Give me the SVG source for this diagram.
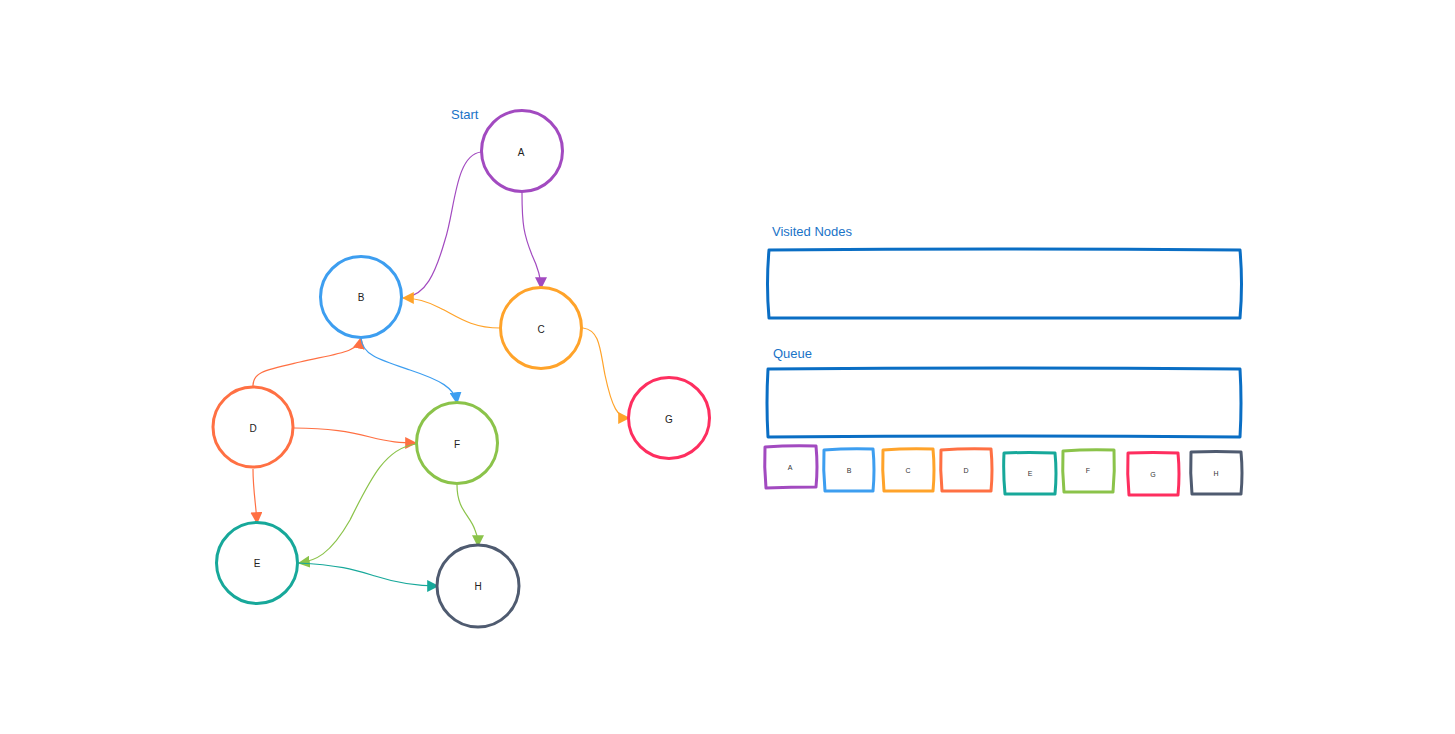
<svg xmlns="http://www.w3.org/2000/svg" width="1455" height="734" viewBox="0 0 1455 734">
<style>
.node{fill:#fff;stroke-width:3}
.lbl{font-family:"Liberation Sans",Arial,sans-serif;font-size:10px;fill:#222;text-anchor:middle;dominant-baseline:central}
.sq{fill:#fff;stroke-width:3;stroke-linejoin:round}
.sql{font-family:"Liberation Sans",Arial,sans-serif;font-size:7px;fill:#333;text-anchor:middle;dominant-baseline:central}
.title{font-family:"Liberation Sans",Arial,sans-serif;font-size:13px;fill:#1a73c7}
.edge{fill:none;stroke-width:1.2}
.panel{fill:#fff;stroke:#0a6ec4;stroke-width:3;stroke-linejoin:round}
</style>
<defs>
<marker id="mPurple" viewBox="0 0 10 10" refX="9" refY="5" markerWidth="12" markerHeight="12" markerUnits="userSpaceOnUse" orient="auto"><path d="M0,0 L10,5 L0,10 z" fill="#a24ac0"/></marker>
<marker id="mOrange" viewBox="0 0 10 10" refX="9" refY="5" markerWidth="12" markerHeight="12" markerUnits="userSpaceOnUse" orient="auto"><path d="M0,0 L10,5 L0,10 z" fill="#ffa32a"/></marker>
<marker id="mRed" viewBox="0 0 10 10" refX="9" refY="5" markerWidth="12" markerHeight="12" markerUnits="userSpaceOnUse" orient="auto"><path d="M0,0 L10,5 L0,10 z" fill="#ff7043"/></marker>
<marker id="mBlue" viewBox="0 0 10 10" refX="9" refY="5" markerWidth="12" markerHeight="12" markerUnits="userSpaceOnUse" orient="auto"><path d="M0,0 L10,5 L0,10 z" fill="#3d9ef0"/></marker>
<marker id="mGreen" viewBox="0 0 10 10" refX="9" refY="5" markerWidth="12" markerHeight="12" markerUnits="userSpaceOnUse" orient="auto"><path d="M0,0 L10,5 L0,10 z" fill="#8bc34a"/></marker>
<marker id="mTeal" viewBox="0 0 10 10" refX="9" refY="5" markerWidth="12" markerHeight="12" markerUnits="userSpaceOnUse" orient="auto"><path d="M0,0 L10,5 L0,10 z" fill="#17a89a"/></marker>
</defs>

<g id="connectors">
<path class="edge" stroke="#a24ac0" d="M481,152 C455,155 455,210 445,240 C435,275 425,295 406,297"/>
<path class="edge" stroke="#a24ac0" d="M522,193 C522,225 524,235 532,255 C540,272 541,280 541,288" marker-end="url(#mPurple)"/>
<path class="edge" stroke="#ffa32a" d="M500,328 C470,328 455,315 440,308 C425,300 415,298 403,298" marker-end="url(#mOrange)"/>
<path class="edge" stroke="#ffa32a" d="M583,328 C600,330 600,350 605,375 C612,408 618,418 629,418" marker-end="url(#mOrange)"/>
<path class="edge" stroke="#ff7043" d="M253,387 C252,372 265,370 300,362 C340,353 358,352 361,338" marker-end="url(#mRed)"/>
<path class="edge" stroke="#3d9ef0" d="M361,338 C362,355 380,360 410,370 C440,380 455,388 457,403" marker-end="url(#mBlue)"/>
<path class="edge" stroke="#ff7043" d="M294,428 C330,428 350,432 370,437 C390,442 400,443 416,443" marker-end="url(#mRed)"/>
<path class="edge" stroke="#8bc34a" d="M416,444 C385,448 370,480 350,520 C330,555 315,561 299,563" marker-end="url(#mGreen)"/>
<path class="edge" stroke="#ff7043" d="M253,469 C253,490 256,505 257,523" marker-end="url(#mRed)"/>
<path class="edge" stroke="#17a89a" d="M298,563 C340,565 355,570 375,576 C400,584 420,586 438,586" marker-end="url(#mTeal)"/>
<path class="edge" stroke="#8bc34a" d="M457,485 C457,510 470,515 475,530 C478,538 478,540 478,546" marker-end="url(#mGreen)"/>
</g>

<g id="node-A"><circle class="node" stroke="#a24ac0" cx="522" cy="151" r="40.5"/><text class="lbl" x="521" y="152">A</text></g>
<g id="node-B"><circle class="node" stroke="#3d9ef0" cx="361" cy="297" r="40.5"/><text class="lbl" x="361" y="297">B</text></g>
<g id="node-C"><circle class="node" stroke="#ffa32a" cx="541" cy="328" r="40.5"/><text class="lbl" x="541" y="329">C</text></g>
<g id="node-D"><circle class="node" stroke="#ff7043" cx="253" cy="427" r="40"/><text class="lbl" x="253" y="428">D</text></g>
<g id="node-E"><circle class="node" stroke="#17a89a" cx="257" cy="563" r="40.5"/><text class="lbl" x="257" y="563">E</text></g>
<g id="node-F"><circle class="node" stroke="#8bc34a" cx="457" cy="443" r="40.5"/><text class="lbl" x="457" y="444">F</text></g>
<g id="node-G"><circle class="node" stroke="#fe2e5f" cx="669" cy="418" r="40.5"/><text class="lbl" x="669" y="419">G</text></g>
<g id="node-H"><circle class="node" stroke="#4f5b70" cx="478" cy="586" r="41"/><text class="lbl" x="478" y="586">H</text></g>

<g id="label-start"><text class="title" x="451" y="119">Start</text></g>

<g id="visited">
<text class="title" x="772" y="236">Visited Nodes</text>
<path class="panel" d="M769,250 Q1000,248 1240,250 Q1243,284 1240,318 Q1000,317 769,318 Q766,284 769,250 Z"/>
</g>
<g id="queue">
<text class="title" x="773" y="358">Queue</text>
<path class="panel" d="M768,369 Q1000,367 1240,369 Q1242,403 1240,437 Q1000,435 768,437 Q766,403 768,369 Z"/>
</g>

<g id="sq-A"><path class="sq" stroke="#a24ac0" d="M765,447 Q791,445 816,446 Q818,467 816,487 Q791,487 766,488 Q764,467 765,447 Z"/><text class="sql" x="790" y="467">A</text></g>
<g id="sq-B"><path class="sq" stroke="#3d9ef0" d="M824,450 Q849,448 873,449 Q875,470 873,491 Q849,491 825,491 Q823,470 824,450 Z"/><text class="sql" x="849" y="470">B</text></g>
<g id="sq-C"><path class="sq" stroke="#ffa32a" d="M883,450 Q908,448 933,449 Q935,470 933,491 Q908,491 884,491 Q882,470 883,450 Z"/><text class="sql" x="908" y="470">C</text></g>
<g id="sq-D"><path class="sq" stroke="#ff7043" d="M941,450 Q966,448 991,449 Q993,470 991,491 Q966,491 942,491 Q940,470 941,450 Z"/><text class="sql" x="966" y="470">D</text></g>
<g id="sq-E"><path class="sq" stroke="#17a89a" d="M1004,453 Q1029,452 1055,453 Q1057,473 1055,494 Q1029,494 1005,494 Q1003,473 1004,453 Z"/><text class="sql" x="1030" y="473">E</text></g>
<g id="sq-F"><path class="sq" stroke="#8bc34a" d="M1063,451 Q1088,449 1114,450 Q1115,471 1113,492 Q1088,492 1064,492 Q1062,471 1063,451 Z"/><text class="sql" x="1088" y="470">F</text></g>
<g id="sq-G"><path class="sq" stroke="#fe2e5f" d="M1128,453 Q1153,452 1178,453 Q1180,474 1178,495 Q1153,495 1129,495 Q1127,474 1128,453 Z"/><text class="sql" x="1153" y="474">G</text></g>
<g id="sq-H"><path class="sq" stroke="#4f5b70" d="M1191,452 Q1216,451 1241,452 Q1243,473 1241,494 Q1216,494 1192,494 Q1190,473 1191,452 Z"/><text class="sql" x="1216" y="473">H</text></g>
</svg>
